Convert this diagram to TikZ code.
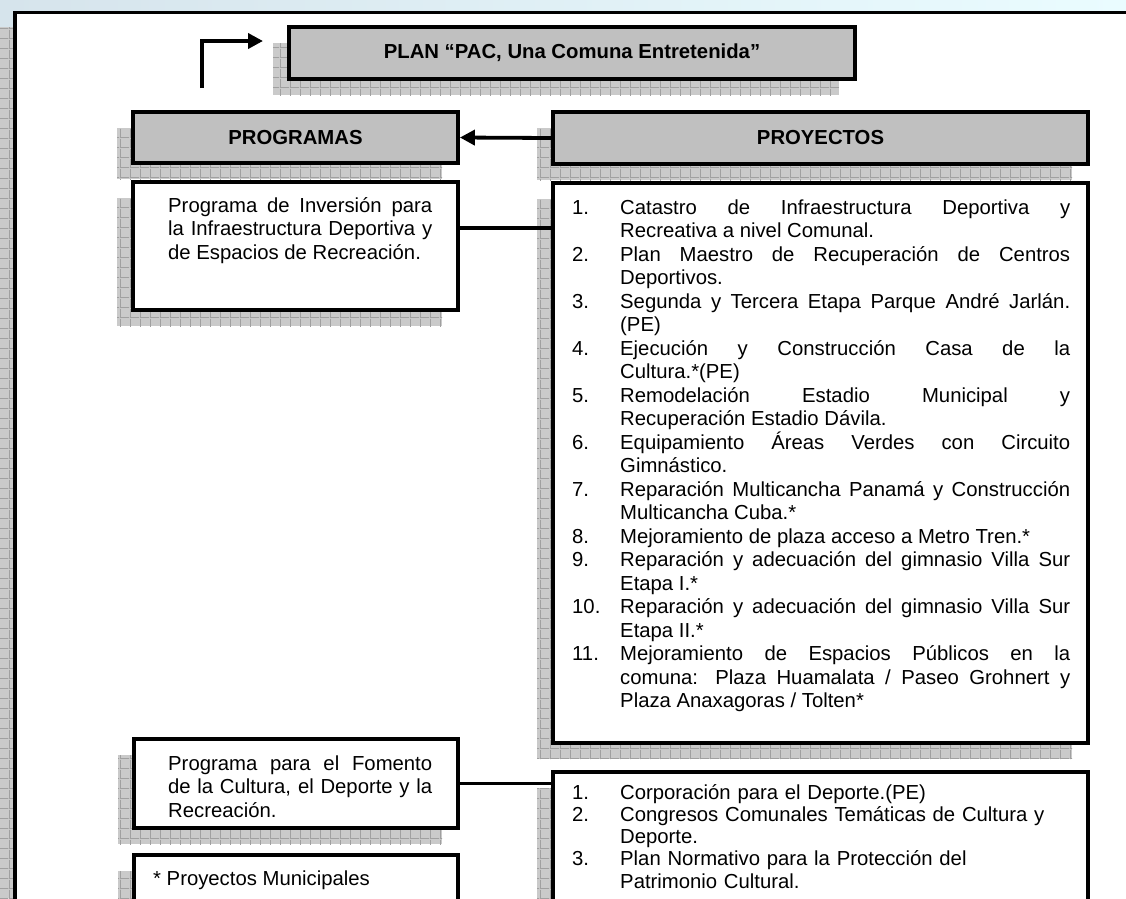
\documentclass[tikz,border=0pt]{standalone}
\usepackage{fontspec}
\setmainfont{Liberation Sans}
\usetikzlibrary{arrows.meta,patterns,positioning}
\definecolor{boxgrey}{RGB}{192,192,192}
\definecolor{shadegrey}{RGB}{202,202,202}
\definecolor{gridgrey}{RGB}{160,160,160}
\definecolor{skyleft}{RGB}{214,228,236}
\definecolor{skyright}{RGB}{234,252,255}
\pgfdeclarepatternformonly{shadowgrid}{\pgfpointorigin}{\pgfqpoint{10pt}{10pt}}{\pgfqpoint{10pt}{10pt}}{%
  \pgfsetlinewidth{0.9pt}%
  \pgfpathmoveto{\pgfqpoint{0pt}{0.45pt}}\pgfpathlineto{\pgfqpoint{10pt}{0.45pt}}%
  \pgfpathmoveto{\pgfqpoint{0.45pt}{0pt}}\pgfpathlineto{\pgfqpoint{0.45pt}{10pt}}%
  \pgfusepath{stroke}}
\newcommand{\txtsize}{\fontsize{20.3pt}{23.5pt}\selectfont}
\newcommand{\litem}[2]{\noindent\hangindent=48pt\hangafter=1\makebox[48pt][l]{#1}#2\par}
\hbadness=10000
\tikzset{
  shadowed/.style={
    preaction={draw=none,fill=shadegrey,transform canvas={shift={(-16pt,-16pt)}}},
    preaction={draw=none,pattern=shadowgrid,pattern color=gridgrey,transform canvas={shift={(-16pt,-16pt)}}}},
  hdrbox/.style={draw,line width=3.8pt,fill=boxgrey,shadowed,inner sep=0pt,font=\bfseries\txtsize},
  prgbox/.style={draw,line width=3.8pt,fill=white,shadowed,inner sep=0pt},
  txt/.style={inner sep=0pt,anchor=base west,font=\txtsize,align=justify},
  note/.style={inner sep=0pt,anchor=base west,font=\txtsize},
  link/.style={line width=3.8pt},
  arr/.style={line width=3.8pt,-{Triangle[length=15pt,width=15pt]}}
}
\begin{document}
\begin{tikzpicture}[x=1pt,y=-1pt,line join=miter]
\useasboundingbox (0,0) rectangle (1126,898);
\clip (0,0) rectangle (1126,898);
% page background
\shade[left color=skyleft,middle color=white,right color=skyright] (0,0) rectangle (1126,13);
\fill[skyleft] (0,13) rectangle (14,27);
\fill[shadegrey] (0,27) rectangle (14,898);
\fill[pattern=shadowgrid,pattern color=gridgrey] (0,27) rectangle (14,898);
\draw[line width=3.3pt] (15,1000) -- (15,12.5) -- (1200,12.5);

% headers
\node[hdrbox,minimum width=566pt,minimum height=52pt] (plan) at (572,53) {PLAN “PAC, Una Comuna Entretenida”};
\node[hdrbox,minimum width=325pt,minimum height=51pt] (prog) at (295.5,137.5) {PROGRAMAS};
\node[hdrbox,minimum width=535pt,minimum height=52pt] (proy) at (820.5,138) {PROYECTOS};

% program and project boxes
\node[prgbox,minimum width=325pt,minimum height=128pt] (pinv) at (295.5,246) {};
\node[prgbox,minimum width=535pt,minimum height=560pt] (pcat) at (820.5,463) {};
\node[prgbox,minimum width=324pt,minimum height=89pt] (pfom) at (296,783.5) {};
\node[prgbox,minimum width=535pt,minimum height=186pt] (pcor) at (820.5,865) {};
\node[prgbox,minimum width=324pt,minimum height=105pt] (pmun) at (296,907.5) {};

% texts
\node[txt,text width=264pt] (pinv-t) at (168,212) {Programa de Inversión para\linebreak la Infraestructura Deportiva y\linebreak de Espacios de Recreación.};
\node[txt,text width=264pt] (pfom-t) at (168,770) {Programa para el Fomento\linebreak de la Cultura, el Deporte y la\linebreak Recreación.};
\node[note] (pmun-t) at (153,885) {* Proyectos Municipales};
\node[txt,text width=498pt] (pcat-t) at (572,214) {%
\litem{1.}{Catastro de Infraestructura Deportiva y\linebreak Recreativa a nivel Comunal.}
\litem{2.}{Plan Maestro de Recuperación de Centros\linebreak Deportivos.}
\litem{3.}{Segunda y Tercera Etapa Parque André Jarlán.\linebreak (PE)}
\litem{4.}{Ejecución y Construcción Casa de la\linebreak Cultura.*(PE)}
\litem{5.}{Remodelación Estadio Municipal y\linebreak Recuperación Estadio Dávila.}
\litem{6.}{Equipamiento Áreas Verdes con Circuito\linebreak Gimnástico.}
\litem{7.}{Reparación Multicancha Panamá y Construcción\linebreak Multicancha Cuba.*}
\litem{8.}{Mejoramiento de plaza acceso a Metro Tren.*}
\litem{9.}{Reparación y adecuación del gimnasio Villa Sur\linebreak Etapa I.*}
\litem{10.}{Reparación y adecuación del gimnasio Villa Sur\linebreak Etapa II.*}
\litem{11.}{Mejoramiento de Espacios Públicos en la\linebreak comuna: Plaza Huamalata / Paseo Grohnert y\linebreak Plaza Anaxagoras / Tolten*}};
\node[txt,text width=498pt,align=left,font=\fontsize{20.3pt}{22.3pt}\selectfont] (pcor-t) at (572,799) {%
\litem{1.}{Corporación para el Deporte.(PE)}
\litem{2.}{Congresos Comunales Temáticas de Cultura y\newline Deporte.}
\litem{3.}{Plan Normativo para la Protección del\newline Patrimonio Cultural.}};

% connectors
\coordinate (loopfoot) at (202,88);
\coordinate (loophead) at (263,41);
\draw[arr] (loopfoot) |- (loophead);
\draw[arr] (proy.west) -- (prog.east);
\draw[link] ([yshift=18pt]pinv.east) -- ([yshift=18pt]pinv.east -| pcat.west);
\draw[link] (pfom.east) -- (pfom.east -| pcor.west);
\end{tikzpicture}
\end{document}
